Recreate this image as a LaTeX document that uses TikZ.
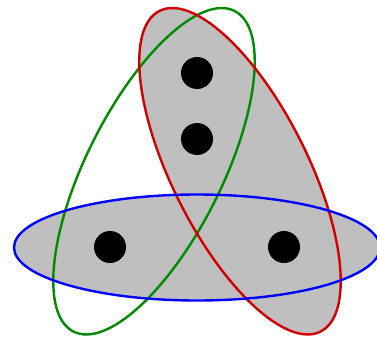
\documentclass[tikz,border=0pt]{standalone}
\usepackage{xcolor}
\definecolor{edgeblue}{RGB}{0,0,255}
\definecolor{edgered}{RGB}{210,0,0}
\definecolor{edgegreen}{RGB}{0,140,0}
\definecolor{edgefill}{RGB}{191,191,191}

\tikzset{
  vertex/.style={circle,fill=black,inner sep=0pt,minimum size=32pt},
  hyperedge/.style={line width=2.4pt}
}

\begin{document}
\begin{tikzpicture}[x=1pt,y=-1pt,line cap=round,line join=round]
  \path[use as bounding box] (0,0) rectangle (377,337);

  % centres of the three edges
  \coordinate (cb) at (197,247.5);
  \coordinate (cr) at (240,171.25);
  \coordinate (cg) at (154,171.25);

  % shaded edges
  \fill[edgefill] (cr) [rotate around={-63.35:(cr)}] ellipse[x radius=179.4, y radius=67.8];
  \fill[edgefill] (cb) ellipse[x radius=183, y radius=53];

  % outlines
  \draw[hyperedge,edgegreen] (cg) [rotate around={63.35:(cg)}] ellipse[x radius=179.4, y radius=67.8];
  \draw[hyperedge,edgered] (cr) [rotate around={-63.35:(cr)}] ellipse[x radius=179.4, y radius=67.8];
  \draw[hyperedge,edgeblue] (cb) ellipse[x radius=183, y radius=53];

  % vertices
  \node[vertex] (v1) at (197,73) {};
  \node[vertex] (v2) at (197,139) {};
  \node[vertex] (v3) at (110,247) {};
  \node[vertex] (v4) at (284,247) {};
\end{tikzpicture}
\end{document}
